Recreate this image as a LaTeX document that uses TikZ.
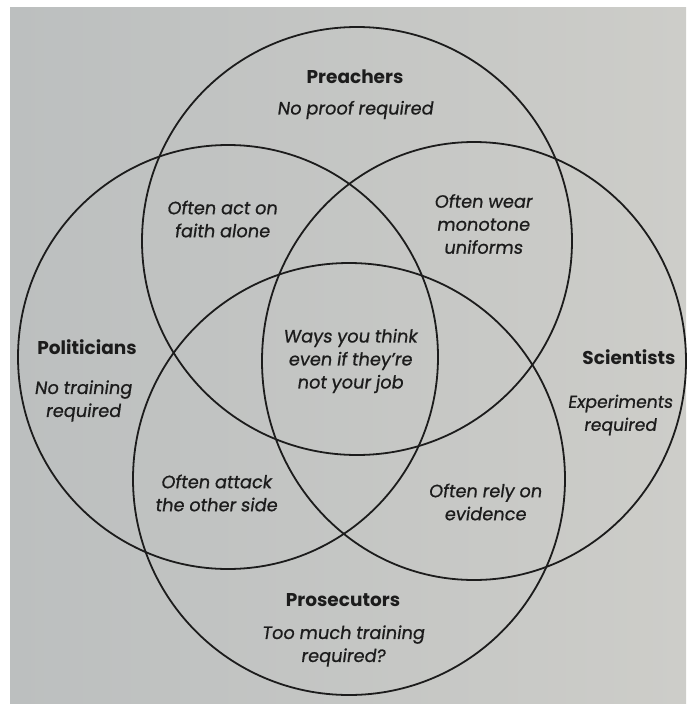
\documentclass[tikz,border=0pt]{standalone}
\usepackage{fontspec}
\setmainfont{Poppins}
\newfontfamily\oblfont[FakeSlant=0.14,FakeBold=0.8]{Poppins}
\definecolor{paperL}{RGB}{188,191,191}
\definecolor{paperR}{RGB}{205,205,201}
\definecolor{ink}{RGB}{28,28,28}
\tikzset{
  ring/.style={draw=ink, line width=1.8pt},
  title/.style={text=ink, font=\fontsize{18.5}{22}\selectfont\bfseries, inner sep=0pt},
  desc/.style={text=ink, font=\oblfont\fontsize{17.8}{23}\selectfont, align=center, inner sep=0pt}
}
\begin{document}
\begin{tikzpicture}[x=1pt,y=-1pt]
\useasboundingbox (0,0) rectangle (686,704);
\fill[white] (0,0) rectangle (686,704);
\shade[left color=paperL, right color=paperR] (10,7) rectangle (686,704);
% circles
\draw[ring] (357,241) ellipse [x radius=215, y radius=214];
\draw[ring] (228,357) ellipse [x radius=210, y radius=212];
\draw[ring] (474,361) ellipse [x radius=212, y radius=219];
\draw[ring] (349,479) ellipse [x radius=216, y radius=216];
% labels
\node[title] (pre) at (355,77) {Preachers};
\node[desc]  (pred) at (355,110) {No proof required};
\node[title] (pol) at (87,347) {Politicians};
\node[desc]  (pold) at (83,401) {No training\\required};
\node[title] (sci) at (629,357) {Scientists};
\node[desc, font=\oblfont\fontsize{17.2}{23}\selectfont]  (scid) at (620,415) {Experiments\\required};
\node[title] (pro) at (343,600) {Prosecutors};
\node[desc]  (prod) at (343,646) {Too much training\\required?};
\node[desc]  (faith) at (222,219) {Often act on\\faith alone};
\node[desc]  (unif) at (483,224) {Often wear\\monotone\\uniforms};
\node[desc]  (ways) at (350,361) {Ways you think\\even if they’re\\not your job};
\node[desc]  (att) at (216,493) {Often attack\\the other side};
\node[desc]  (evid) at (485,502) {Often rely on\\evidence};
\end{tikzpicture}
\end{document}
